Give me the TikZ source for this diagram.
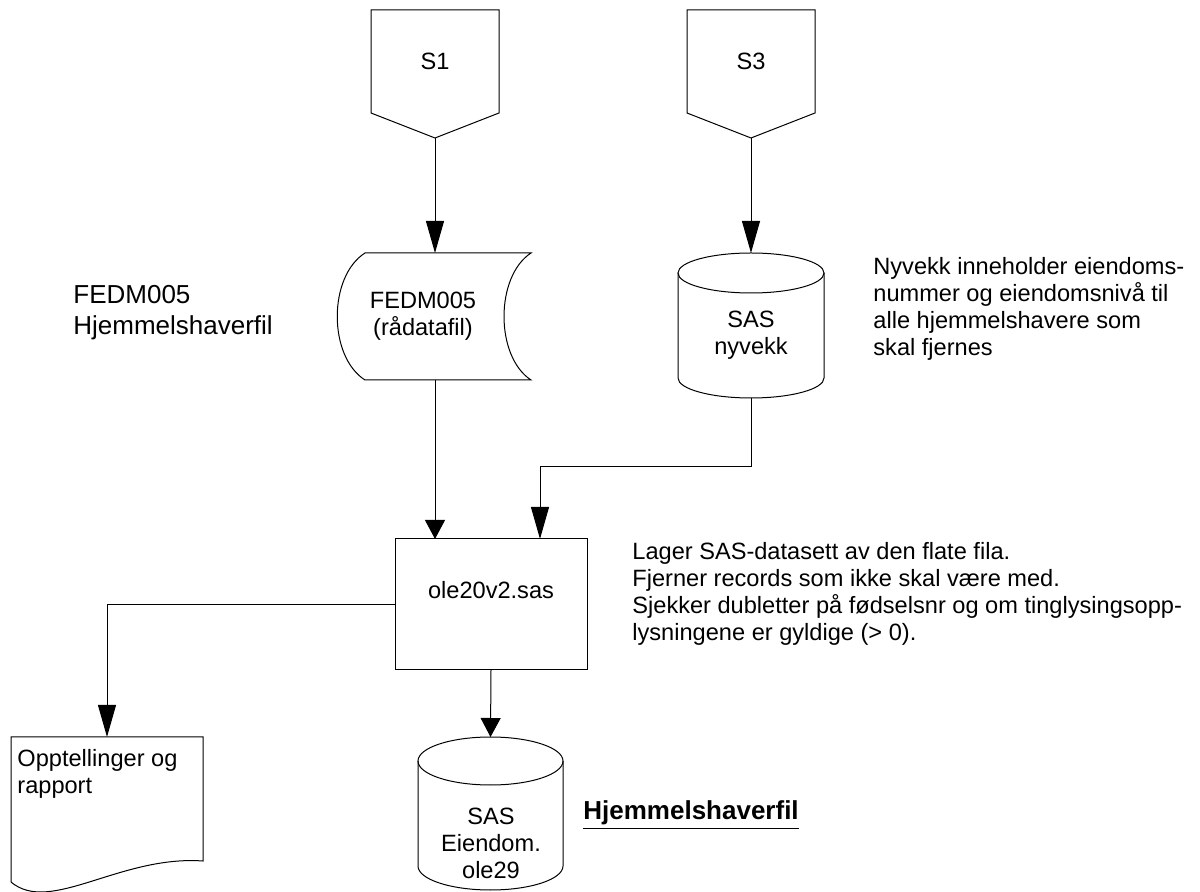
\documentclass[tikz,border=0pt]{standalone}
\usepackage{fontspec}
\setmainfont{Liberation Sans}
\usetikzlibrary{arrows.meta,calc}
% draws a data cylinder round an empty node: #1 node, #2 x radius, #3 y radius
\newcommand{\datacyl}[3]{
  \draw[outline] ($(#1.north west)+(0pt,-#3)$) -- ($(#1.south west)+(0pt,#3)$)
    arc[start angle=180,end angle=360,x radius=#2,y radius=#3]
    -- ($(#1.north east)+(0pt,-#3)$);
  \draw[outline] ($(#1.north)+(0pt,-#3)$) ellipse[x radius=#2,y radius=#3];
}
\tikzset{
  shapebox/.style={inner sep=0pt,outer sep=0pt},
  outline/.style={line width=0.5pt},
  nodetext/.style={font=\fontsize{11.8}{13.5}\selectfont,inner sep=0pt,align=center},
  note/.style={font=\fontsize{11.8}{13.5}\selectfont,inner sep=0pt,align=left,anchor=west},
  flow/.style={-{Triangle[length=16pt,width=9pt]},line width=0.5pt},
  flow short/.style={-{Triangle[length=9.5pt,width=10pt]},line width=0.5pt}
}

\begin{document}
\begin{tikzpicture}[x=0.5pt,y=-0.5pt]
  \useasboundingbox (0,0) rectangle (1200,892);

  % off-page sources
  \node[shapebox,nodetext,minimum width=64pt,minimum height=51.5pt] (s1) at (435,61.5) {S1};
  \node[shapebox,nodetext,minimum width=64pt,minimum height=51.5pt] (s3) at (751,61.5) {S3};
  \foreach \n in {s1,s3} {
    \coordinate (\n tip) at ($(\n.south)+(0,25)$);
    \draw[outline] (\n.north west) -- (\n.north east) -- (\n.south east) -- (\n tip) -- (\n.south west) -- cycle;
  }

  % raw file
  \node[shapebox,nodetext,minimum height=63.5pt] (fedm) at (423,316.5) {FEDM005\\(rådatafil)};
  \draw[outline] ($(fedm.center)+(-58,-63.5)$) -- ($(fedm.center)+(108,-63.5)$)
    .. controls ($(fedm.center)+(72,-40)$) and ($(fedm.center)+(72,40)$) .. ($(fedm.center)+(108,63.5)$)
    -- ($(fedm.center)+(-58,63.5)$)
    .. controls ($(fedm.center)+(-95,40)$) and ($(fedm.center)+(-95,-40)$) .. cycle;

  % SAS nyvekk
  \node[shapebox,minimum width=73pt,minimum height=72.5pt] (nyvekk) at (751,325.5) {};
  \datacyl{nyvekk}{36.5pt}{10pt}
  \node[nodetext] (nyvekktext) at (751,335.5) {SAS\\nyvekk};

  % program
  \node[shapebox,draw,outline,minimum width=96pt,minimum height=65.5pt] (prog) at (491,604.5) {};
  \node[nodetext] (progtext) at (491,590) {ole20v2.sas};

  % report
  \node[shapebox,minimum width=96pt,minimum height=72.5pt] (rapport) at (107,809.5) {};
  \draw[outline] (rapport.south west) -- (rapport.north west) -- (rapport.north east)
    -- ($(rapport.south east)+(0,-21)$)
    .. controls ($(rapport.south)+(13,-27)$) and ($(rapport.south)+(-57,33)$) .. (rapport.south west);
  \node[note] (rapporttext) at (17,773.5) {Opptellinger og\\rapport};

  % SAS Eiendom
  \node[shapebox,minimum width=72.5pt,minimum height=76.5pt] (eiendom) at (490.5,813.5) {};
  \datacyl{eiendom}{36.25pt}{12pt}
  \node[nodetext] (eiendomtext) at (491,843) {SAS\\Eiendom.\\ole29};

  % notes
  \node[note,font=\fontsize{13}{15.5}\selectfont] (fedmnote) at (73,313) {FEDM005\\Hjemmelshaverfil};
  \node[note] (nyvekknote) at (873,308.5) {Nyvekk inneholder eiendoms-\\nummer og eiendomsnivå til\\alle hjemmelshavere som\\skal fjernes};
  \node[note] (prognote) at (632,593.5) {Lager SAS-datasett av den flate fila.\\Fjerner records som ikke skal være med.\\Sjekker dubletter på fødselsnr og om tinglysingsopp-\\lysningene er gyldige (> 0).};
  \node[note,font=\fontsize{13}{15.5}\selectfont\bfseries] (result) at (583,815) {\underline{Hjemmelshaverfil}};

  % connectors
  \draw[flow] (s1tip) -- (fedm.north -| s1tip);
  \draw[flow] (s3tip) -- (nyvekk.north);
  \draw[flow short] (fedm.south -| s1tip) -- (prog.north -| s1tip);
  \draw[flow] (nyvekk.south) -- ++(0,69) -| ($(prog.north)+(49,0)$);
  \draw[flow] (prog.west) -| (rapport.north);
  \draw[flow short] (prog.south) -- (eiendom.north);
\end{tikzpicture}
\end{document}
